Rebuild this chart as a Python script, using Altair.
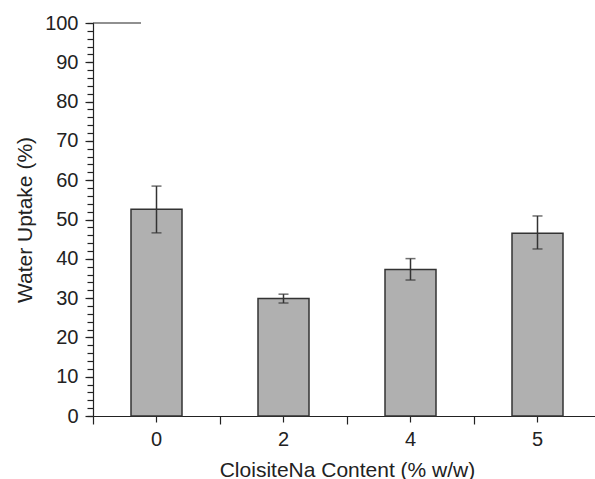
import altair as alt
import pandas as pd

categories = ["0", "2", "4", "5"]
uptake = [52.6, 29.9, 37.3, 46.5]
err_low = [46.6, 28.75, 34.6, 42.5]
err_high = [58.5, 31.0, 40.05, 50.9]
y_major = list(range(0, 101, 10))
y_minor = list(range(0, 101, 2))

df = pd.DataFrame({"cat": categories, "v": uptake, "lo": err_low, "hi": err_high})

FONT = "Liberation Sans"
INK = "#222222"

xscale = alt.Scale(domain=categories, range=[0, 508], paddingInner=0, paddingOuter=0)
yscale = alt.Scale(domain=[0, 100], nice=False, zero=True)

base = alt.Chart(df)

bars = base.mark_bar(fill="#b0b0b0", stroke="#333333", strokeWidth=1.5, size=51).encode(
    x=alt.X("cat:N", sort=categories, scale=xscale,
            axis=alt.Axis(title="CloisiteNa Content (% w/w)", orient="bottom", labelAngle=0,
                          tickSize=6, labelPadding=7, titlePadding=10)),
    y=alt.Y("v:Q", scale=yscale,
            axis=alt.Axis(title="Water Uptake (%)", orient="left", values=y_major,
                          tickSize=8, labelPadding=7, titlePadding=9)),
)

err = base.mark_rule(color="#333333", strokeWidth=1.5).encode(
    x=alt.X("cat:N", sort=categories, scale=xscale,
            axis=alt.Axis(title=None, orient="bottom", labels=False, domain=False,
                          bandPosition=0, tickSize=8)),
    y=alt.Y("lo:Q", scale=yscale,
            axis=alt.Axis(title=None, orient="left", labels=False, domain=False,
                          values=y_minor, tickSize=6)),
    y2="hi:Q",
)

cap_lo = base.mark_tick(color="#333333", size=10, thickness=1.5).encode(
    x=alt.X("cat:N", sort=categories, scale=xscale, axis=None),
    y=alt.Y("lo:Q", scale=yscale, axis=None),
)
cap_hi = base.mark_tick(color="#333333", size=10, thickness=1.5).encode(
    x=alt.X("cat:N", sort=categories, scale=xscale, axis=None),
    y=alt.Y("hi:Q", scale=yscale, axis=None),
)

stub = alt.Chart(alt.Data(values=[{"k": 1}])).mark_rule(color=INK, strokeWidth=1.2).encode(
    x=alt.value(0), x2=alt.value(48), y=alt.value(0)
)

chart = (
    alt.layer(bars, err, cap_lo, cap_hi, stub)
    .resolve_axis(x="independent", y="independent")
    .properties(
        width=502,
        height=393,
        padding={"left": 93, "top": 23, "right": 0, "bottom": 63},
        autosize=alt.AutoSizeParams(type="none"),
    )
    .configure_view(stroke=None)
    .configure_axis(
        grid=False,
        labelFont=FONT, titleFont=FONT,
        labelFontSize=20, titleFontSize=21,
        titleFontWeight="normal",
        labelColor=INK, titleColor=INK,
        domainColor=INK, tickColor=INK,
        domainWidth=1.2, tickWidth=1.2,
    )
)

chart.save("out.html", embed_options={"renderer": "svg", "actions": False})
